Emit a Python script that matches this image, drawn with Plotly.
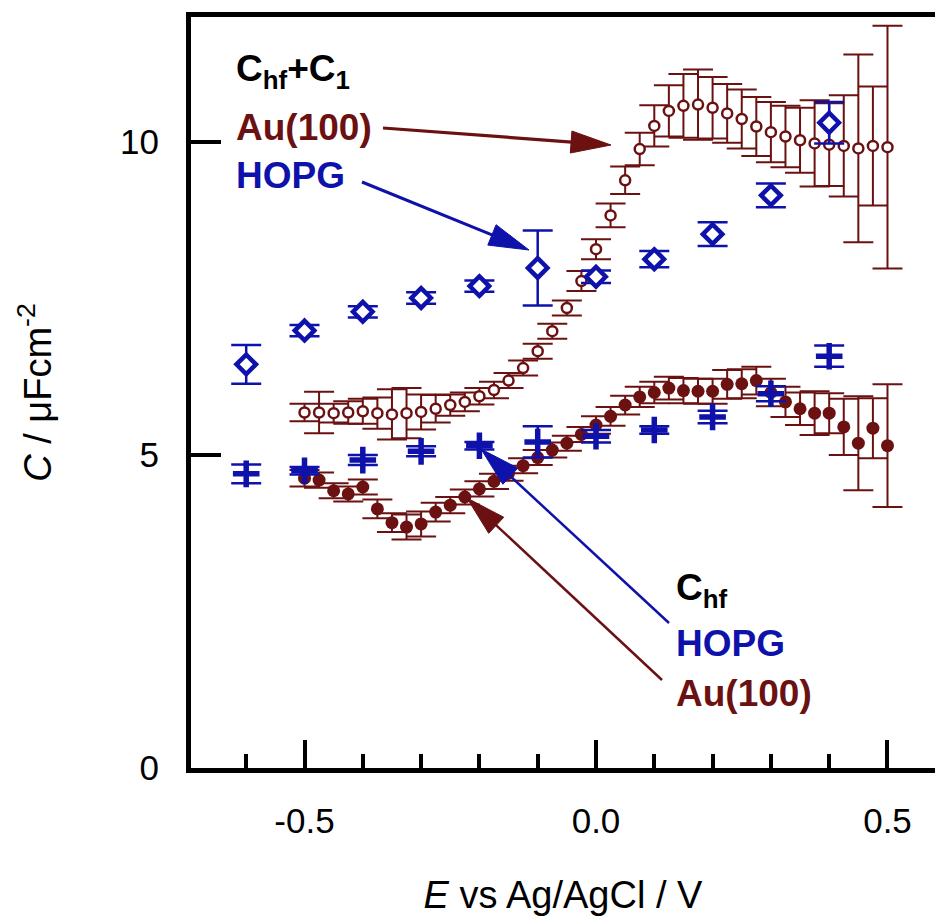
import math
import plotly.graph_objects as go

BROWN = '#6B1111'
BLUE = '#0F12AA'
FONT = 'Liberation Sans, Arial, Helvetica, sans-serif'

# ---------------- data ----------------
au_E = [-0.500, -0.475, -0.450, -0.425, -0.400, -0.375, -0.350, -0.325, -0.300, -0.275,
        -0.250, -0.225, -0.200, -0.175, -0.150, -0.125, -0.100, -0.075, -0.050, -0.025,
        0.000, 0.025, 0.050, 0.075, 0.100, 0.125, 0.150, 0.175, 0.200, 0.225,
        0.250, 0.275, 0.300, 0.325, 0.350, 0.375, 0.400, 0.425, 0.450, 0.475, 0.500]

au_total = [5.68, 5.68, 5.67, 5.68, 5.70, 5.67, 5.65, 5.67, 5.69, 5.74,
            5.80, 5.85, 5.94, 6.04, 6.19, 6.39, 6.66, 6.98, 7.35, 7.78,
            8.29, 8.83, 9.39, 9.89, 10.26, 10.50, 10.58, 10.60, 10.55, 10.46,
            10.37, 10.25, 10.16, 10.09, 10.03, 9.98, 9.96, 9.94, 9.90, 9.94, 9.92]
au_total_err = [0.14, 0.33, 0.15, 0.18, 0.20, 0.25, 0.40, 0.40, 0.28, 0.22,
                0.17, 0.15, 0.13, 0.13, 0.12, 0.12, 0.12, 0.12, 0.12, 0.16,
                0.16, 0.19, 0.22, 0.26, 0.33, 0.41, 0.51, 0.56, 0.49, 0.47,
                0.47, 0.47, 0.48, 0.49, 0.52, 0.69, 0.66, 0.81, 1.50, 0.95, 1.94]

au_hf = [4.63, 4.60, 4.43, 4.38, 4.49, 4.14, 3.92, 3.85, 3.90, 4.09,
         4.20, 4.33, 4.46, 4.58, 4.71, 4.83, 4.96, 5.08, 5.19, 5.33,
         5.48, 5.62, 5.80, 5.93, 6.00, 6.07, 6.03, 6.02, 6.02, 6.13,
         6.14, 6.19, 6.00, 5.85, 5.74, 5.67, 5.67, 5.45, 5.19, 5.43, 5.15]
au_hf_err = [0.13, 0.12, 0.12, 0.12, 0.12, 0.15, 0.15, 0.20, 0.20, 0.15,
             0.13, 0.12, 0.12, 0.12, 0.12, 0.12, 0.12, 0.12, 0.12, 0.12,
             0.14, 0.15, 0.15, 0.16, 0.17, 0.18, 0.20, 0.20, 0.20, 0.23,
             0.23, 0.22, 0.22, 0.24, 0.26, 0.35, 0.32, 0.45, 0.75, 0.48, 0.98]

hopg_E = [-0.6, -0.5, -0.4, -0.3, -0.2, -0.1, 0.0, 0.1, 0.2, 0.3, 0.4]
hopg_total = [6.45, 6.99, 7.29, 7.51, 7.70, 7.99, 7.85, 8.13, 8.53, 9.15, 10.31]
hopg_total_err = [0.31, 0.09, 0.09, 0.09, 0.09, 0.60, 0.10, 0.13, 0.19, 0.19, 0.33]
hopg_hf = [4.70, 4.75, 4.92, 5.06, 5.15, 5.21, 5.30, 5.40, 5.61, 5.98, 6.58]
hopg_hf_err = [0.15, 0.06, 0.08, 0.08, 0.06, 0.25, 0.10, 0.06, 0.10, 0.12, 0.17]

x_major_ticks = [-0.5, 0.0, 0.5]
x_major_labels = ['-0.5', '0.0', '0.5']
x_minor_ticks = [-0.6, -0.4, -0.3, -0.2, -0.1, 0.1, 0.2, 0.3, 0.4]
y_ticks = [0, 5, 10]
y_labels = ['0', '5', '10']

# ---------------- geometry helpers ----------------
W, H = 935, 924
ML, MR, MT, MB = 191, 0, 17, 156
X0, X1 = -0.6947, 0.5815
Y0, Y1 = 0, 12
PW = W - ML - MR
PH = H - MT - MB


def dx(px):
    return X0 + (px - ML) / PW * (X1 - X0)


def dy(py):
    return Y0 + (MT + PH - py) / PH * (Y1 - Y0)


def paper_x(px):
    return (px - ML) / PW


def paper_y(py):
    return (MT + PH - py) / PH


fig = go.Figure()

err_common = dict(type='data', thickness=2, width=15)

fig.add_trace(go.Scatter(
    x=au_E, y=au_total, mode='markers',
    marker=dict(symbol='circle', size=10, color='white', line=dict(color=BROWN, width=2.5)),
    error_y=dict(array=au_total_err, color=BROWN, **err_common),
    showlegend=False))

fig.add_trace(go.Scatter(
    x=au_E, y=au_hf, mode='markers',
    marker=dict(symbol='circle', size=13, color=BROWN, line=dict(width=0)),
    error_y=dict(array=au_hf_err, color=BROWN, **err_common),
    showlegend=False))

fig.add_trace(go.Scatter(
    x=hopg_E, y=hopg_total, mode='markers',
    marker=dict(symbol='diamond', size=15, color='white', line=dict(color=BLUE, width=4.5)),
    error_y=dict(array=hopg_total_err, color=BLUE, type='data', thickness=2.5, width=15),
    showlegend=False))

fig.add_trace(go.Scatter(
    x=hopg_E, y=hopg_hf, mode='markers',
    marker=dict(symbol='cross-thin', size=19, color=BLUE, line=dict(color=BLUE, width=5.5)),
    error_y=dict(array=hopg_hf_err, color=BLUE, type='data', thickness=2.5, width=15),
    showlegend=False))

# ---------------- arrows (line + triangular head) ----------------
shapes = []


def arrow(tail, tip, color, lw, head_len=40, head_half=11):
    tx, ty = tail
    px_, py_ = tip
    L = math.hypot(px_ - tx, py_ - ty)
    ux, uy = (px_ - tx) / L, (py_ - ty) / L
    nx, ny = -uy, ux
    bx, by = px_ - ux * head_len, py_ - uy * head_len
    shapes.append(dict(type='line', xref='x', yref='y',
                       x0=dx(tx), y0=dy(ty), x1=dx(bx + ux * 4), y1=dy(by + uy * 4),
                       line=dict(color=color, width=lw)))
    pts = [(px_, py_), (bx + nx * head_half, by + ny * head_half),
           (bx - nx * head_half, by - ny * head_half)]
    path = 'M ' + ' L '.join(f'{dx(a):.5f},{dy(b):.5f}' for a, b in pts) + ' Z'
    shapes.append(dict(type='path', xref='x', yref='y', path=path,
                       fillcolor=color, line=dict(color=color, width=1)))


arrow((383, 128), (611, 145), BROWN, 3.2)
arrow((362, 182), (529, 250), BLUE, 3.0)
arrow((669, 623), (481, 449), BLUE, 2.5)
arrow((662, 680), (467, 498), BROWN, 2.5)

# ---------------- annotations ----------------
ann = []


def label(text, px, py, color, yanchor='middle', size=37):
    ann.append(dict(text=text, x=paper_x(px), y=paper_y(py), xref='paper', yref='paper',
                    xanchor='left', yanchor=yanchor, showarrow=False,
                    font=dict(family=FONT, size=size, color=color, weight='bold')))


label('C<sub>hf</sub>+C<sub>1</sub>', 234, 46, 'black', yanchor='top')
label('Au(100)', 234, 127, BROWN)
label('HOPG', 234, 175, BLUE)
label('C<sub>hf</sub>', 674, 565, 'black', yanchor='top')
label('HOPG', 674, 643, BLUE)
label('Au(100)', 674, 693, BROWN)

fig.update_layout(
    width=W, height=H,
    margin=dict(l=ML, r=MR, t=MT, b=MB, pad=0),
    paper_bgcolor='white', plot_bgcolor='white',
    shapes=shapes, annotations=ann,
    font=dict(family=FONT, color='black', size=34),
    showlegend=False,
)

fig.update_xaxes(
    range=[X0, X1], showgrid=False, zeroline=False,
    showline=True, linewidth=5, linecolor='black', mirror=True,
    ticks='inside', ticklen=28, tickwidth=4, tickcolor='black',
    tickvals=x_major_ticks, ticktext=x_major_labels,
    tickfont=dict(family=FONT, size=35, color='black'),
    ticklabelstandoff=18,
    minor=dict(ticks='inside', ticklen=14, tickwidth=4, tickcolor='black',
               tickvals=x_minor_ticks, showgrid=False),
    title=dict(text='<i>E</i> vs Ag/AgCl / V', standoff=44,
               font=dict(family=FONT, size=38, color='black')),
    automargin=False,
)
fig.update_yaxes(
    range=[Y0, Y1], showgrid=False, zeroline=False,
    showline=True, linewidth=5, linecolor='black', mirror=False,
    ticks='inside', ticklen=30, tickwidth=4, tickcolor='black',
    tickvals=y_ticks, ticktext=y_labels,
    tickfont=dict(family=FONT, size=35, color='black'),
    ticklabelstandoff=20,
    title=dict(text='<i>C</i> / μFcm<sup>-2</sup>', standoff=58,
               font=dict(family=FONT, size=38, color='black')),
    automargin=False,
)

fig.write_html('out.html')
